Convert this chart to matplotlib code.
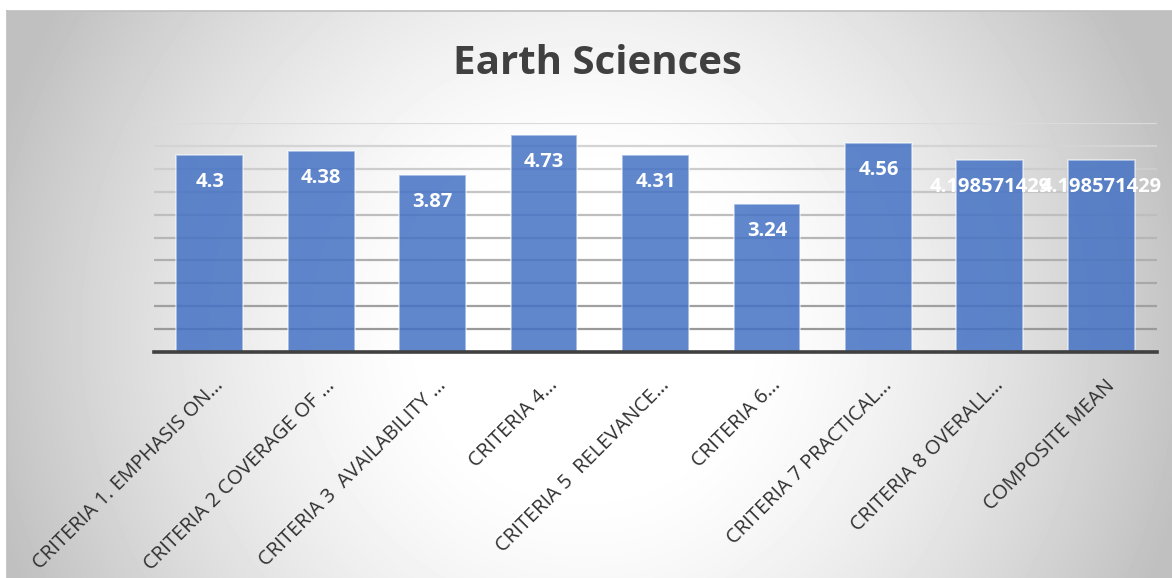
import numpy as np
import matplotlib
matplotlib.use("Agg")
import matplotlib.pyplot as plt
from matplotlib.colors import to_rgba
from matplotlib.transforms import ScaledTranslation

plt.rcParams["font.family"] = ["Open Sans", "DejaVu Sans"]

# Scores per criterion
categories = [
    "CRITERIA 1. EMPHASIS ON…",
    "CRITERIA 2 COVERAGE OF …",
    "CRITERIA 3  AVAILABILITY …",
    "CRITERIA 4…",
    "CRITERIA 5  RELEVANCE…",
    "CRITERIA 6…",
    "CRITERIA 7 PRACTICAL…",
    "CRITERIA 8 OVERALL…",
    "COMPOSITE MEAN",
]
values = [4.3, 4.38, 3.87, 4.73, 4.31, 3.24, 4.56, 4.198571429, 4.198571429]
value_labels = ["4.3", "4.38", "3.87", "4.73", "4.31", "3.24", "4.56",
                "4.198571429", "4.198571429"]
grid_levels = np.arange(0.5, 5.01, 0.5)

W, H = 1172, 578
fig = plt.figure(figsize=(W / 100, H / 100), dpi=100)

# radial grey-to-white backdrop of the chart area
x0, y0 = 7, 11
bg = fig.add_axes([x0 / W, 0, (W - x0) / W, (H - y0) / H], zorder=-1)
xx, yy = np.meshgrid(np.arange(x0, W), np.arange(y0, H))
r = np.hypot(xx - 585, yy - 330)
shade = 1 - 0.25 * np.clip((r - 150) / 470, 0, 1) ** 1.4
bg.imshow(shade, cmap="gray", vmin=0, vmax=1, aspect="auto",
          interpolation="bilinear")
bg.set_xticks([])
bg.set_yticks([])
for side in ["right", "bottom"]:
    bg.spines[side].set_visible(False)
for side in ["top", "left"]:
    bg.spines[side].set_color("#bfbfbf")
    bg.spines[side].set_linewidth(1.2)

left, right, top, base = 154, 1157, 123, 352
ax = fig.add_axes([left / W, (H - base) / H, (right - left) / W, (base - top) / H])
ax.set_facecolor("none")

x = np.arange(len(categories))
ax.set_xlim(-0.5, len(categories) - 0.5)
ax.set_ylim(0, 5)

# horizontal gridlines, lighter towards the top
for i, lv in enumerate(grid_levels):
    t = i / (len(grid_levels) - 1)
    g = 0.60 + 0.26 * t
    ax.axhline(lv, color=(g, g, g), lw=1.6, zorder=1)

ax.bar(x, values, width=0.6, color=to_rgba("#4472C4", 0.85),
       edgecolor=to_rgba("white", 0.55), linewidth=1.2, zorder=2)

for xi, v, lab in zip(x, values, value_labels):
    ax.annotate(lab, (xi, v), xytext=(0, -19.5), textcoords="offset points",
                ha="center", va="center", color="white", fontsize=14.5,
                fontweight="bold", zorder=4)

ax.axhline(0, color="#404040", lw=2.6, zorder=3, clip_on=False)

for side in ax.spines.values():
    side.set_visible(False)
ax.set_yticks([])
ax.set_xticks(x)
ax.set_xticklabels(categories, rotation=45, ha="right", va="center",
                   rotation_mode="anchor", fontsize=14.5, color="#303030")
ax.tick_params(axis="x", length=0, pad=22)
shift = ScaledTranslation(0.11, 0, fig.dpi_scale_trans)
for lbl in ax.get_xticklabels():
    lbl.set_transform(lbl.get_transform() + shift)

fig.text(597 / W, 1 - 63 / H, "Earth Sciences", ha="center", va="center",
         fontsize=29, fontweight="bold", color="#404040")

fig.savefig("out.png", dpi=100, facecolor="white")
